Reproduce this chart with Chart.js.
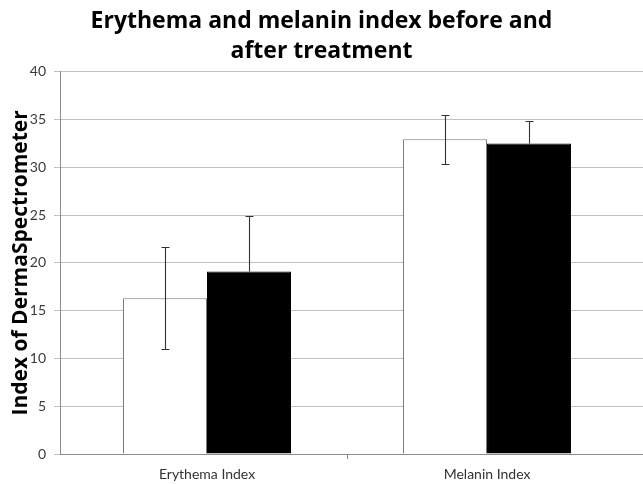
<!DOCTYPE html>
<html>
<head>
<meta charset="utf-8">
<script src="https://cdn.jsdelivr.net/npm/chart.js@4/dist/chart.umd.min.js"></script>
<style>
  html, body { margin: 0; padding: 0; background: #ffffff; }
  #wrap { width: 643px; height: 484px; position: relative; }
</style>
</head>
<body>
<div id="wrap"><canvas id="c" width="643" height="484"></canvas></div>
<script>
const categories = ["Erythema Index", "Melanin Index"];
const beforeValues = [16.3, 32.95];
const beforeErrors = [5.35, 2.55];
const afterValues = [19.1, 32.5];
const afterErrors = [5.8, 2.4];
const yTicks = [0, 5, 10, 15, 20, 25, 30, 35, 40];
const titleLines = ["Erythema and melanin index before and", "after treatment"];
const yTitle = "Index of DermaSpectrometer";

// category positions on a numeric x axis (index of each category)
const catIndex = categories.map((c, i) => i);
const xMin = -0.525, xMax = 1.557;
// x tick entries: category labels plus the boundary mark between them
const xTickValues = [0, 0.5, 1];

const toPoints = (vals) => vals.map((v, i) => ({ x: catIndex[i], y: v }));

const errorBarPlugin = {
  id: "errorBars",
  afterDatasetsDraw(chart) {
    const ctx = chart.ctx;
    const y = chart.scales.y;
    chart.data.datasets.forEach((ds, di) => {
      const meta = chart.getDatasetMeta(di);
      meta.data.forEach((bar, i) => {
        const v = ds.data[i].y;
        const e = ds.errors[i];
        const x = Math.round(bar.x) + 0.5;
        const yTop = Math.round(y.getPixelForValue(v + e)) + 0.5;
        let yBot = Math.round(y.getPixelForValue(v - e)) + 0.5;
        ctx.save();
        ctx.strokeStyle = "#333333";
        ctx.lineWidth = 1.1;
        ctx.beginPath();
        if (ds.hideErrorInside) {
          // the part inside a black bar is not visible in the original
          ctx.moveTo(x, yTop);
          ctx.lineTo(x, bar.y);
          ctx.moveTo(x - 4, yTop);
          ctx.lineTo(x + 4, yTop);
        } else {
          ctx.moveTo(x, yTop);
          ctx.lineTo(x, yBot);
          ctx.moveTo(x - 4, yTop);
          ctx.lineTo(x + 4, yTop);
          ctx.moveTo(x - 4, yBot);
          ctx.lineTo(x + 4, yBot);
        }
        ctx.stroke();
        ctx.restore();
      });
    });
  }
};

new Chart(document.getElementById("c"), {
  type: "bar",
  data: {
    datasets: [
      { label: "Before", data: toPoints(beforeValues), errors: beforeErrors,
        backgroundColor: "#ffffff", borderColor: "#7a7a7a", borderWidth: 1,
        categoryPercentage: 1.2, barPercentage: 1.0 },
      { label: "After", data: toPoints(afterValues), errors: afterErrors, hideErrorInside: true,
        backgroundColor: "#000000", borderColor: "#000000", borderWidth: 1,
        categoryPercentage: 1.2, barPercentage: 1.0 }
    ]
  },
  options: {
    responsive: false,
    animation: false,
    layout: { padding: { left: 0, right: 0, top: 0, bottom: 0 } },
    plugins: {
      legend: { display: false },
      tooltip: { enabled: false },
      title: {
        display: true,
        text: titleLines,
        color: "#000000",
        font: { family: "Open Sans", size: 23, weight: "bold", lineHeight: 1.3 },
        padding: { top: 7, bottom: 5 }
      }
    },
    scales: {
      x: {
        type: "linear",
        offset: false,
        bounds: "data",
        min: xMin, max: xMax,
        afterBuildTicks(s) { s.ticks = xTickValues.map(v => ({ value: v })); },
        grid: {
          offset: false,
          drawOnChartArea: false, drawTicks: true, tickLength: 5,
          color: (ctx) => (ctx.tick && Number.isInteger(ctx.tick.value)) ? "rgba(0,0,0,0)" : "#8c8c8c"
        },
        border: { color: "#8c8c8c", width: 1 },
        ticks: {
          color: "#333333", font: { family: "Lato", size: 14 }, padding: 7,
          autoSkip: false, maxRotation: 0,
          callback: (v) => Number.isInteger(v) && categories[v] !== undefined ? categories[v] : ""
        },
        afterFit(s) { s.height = 30; }
      },
      y: {
        min: 0, max: 40,
        afterBuildTicks(s) { s.ticks = yTicks.map(v => ({ value: v })); },
        grid: { color: "#c0c0c0", tickLength: 6, drawTicks: true },
        border: { color: "#8c8c8c", width: 1 },
        ticks: { color: "#3a3a3a", font: { family: "Lato", size: 14 }, padding: 8 },
        title: { display: true, text: yTitle, color: "#000000",
                 font: { family: "Open Sans", size: 21, weight: "bold", lineHeight: 1.2 }, padding: { top: 8, bottom: 0 } },
        afterFit(s) { s.width = 60; }
      }
    }
  },
  plugins: [errorBarPlugin]
});
</script>
</body>
</html>
